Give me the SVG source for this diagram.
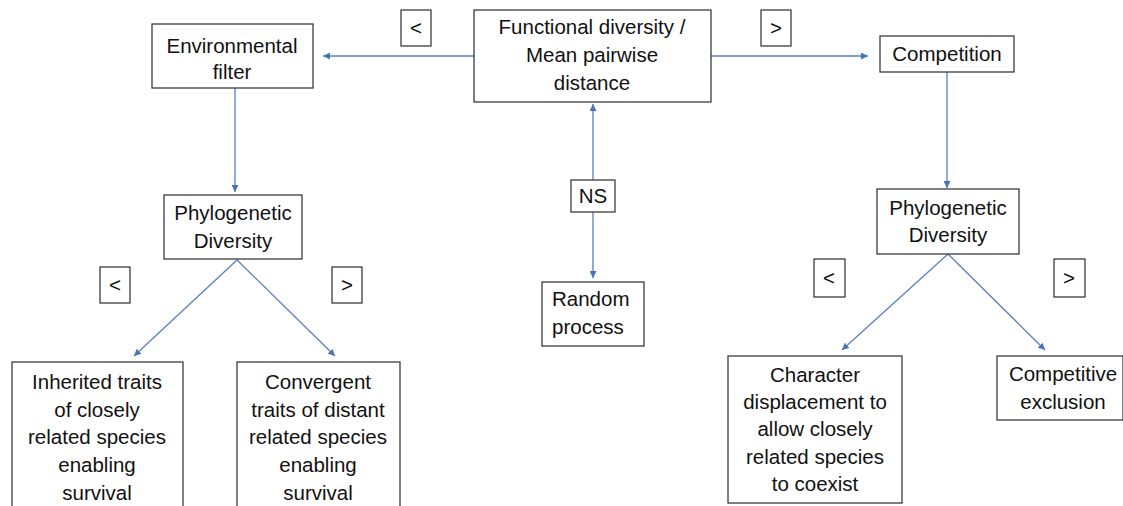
<svg xmlns="http://www.w3.org/2000/svg" width="1123" height="506" viewBox="0 0 1123 506">
<style>
.box{fill:#fff;stroke:#2b2b2b;stroke-width:1.2}
.t{font-family:"Liberation Sans",Arial,sans-serif;font-size:20.5px;fill:#111;text-anchor:middle}
.tl{font-family:"Liberation Sans",Arial,sans-serif;font-size:20.5px;fill:#111}
.c{stroke:#5a7fbf;stroke-width:1.3;fill:none}
</style>
<defs>
<marker id="ah" viewBox="0 0 10 10" refX="10" refY="5" markerWidth="7" markerHeight="7" markerUnits="userSpaceOnUse" orient="auto-start-reverse">
<path d="M0,0 L10,5 L0,10 z" fill="#4a72b8"/>
</marker>
</defs>
<rect width="1123" height="506" fill="#fff"/>
<g id="connectors">
<line class="c" x1="474" y1="56" x2="323" y2="56" marker-end="url(#ah)"/>
<line class="c" x1="711" y1="56" x2="868" y2="56" marker-end="url(#ah)"/>
<line class="c" x1="235" y1="88" x2="235" y2="192" marker-end="url(#ah)"/>
<line class="c" x1="947" y1="72" x2="947" y2="188" marker-end="url(#ah)"/>
<line class="c" x1="593" y1="104" x2="593" y2="278" marker-start="url(#ah)" marker-end="url(#ah)"/>
<line class="c" x1="237" y1="260" x2="134" y2="356" marker-end="url(#ah)"/>
<line class="c" x1="237" y1="260" x2="335" y2="356" marker-end="url(#ah)"/>
<line class="c" x1="948" y1="254" x2="842" y2="350" marker-end="url(#ah)"/>
<line class="c" x1="948" y1="254" x2="1045" y2="350" marker-end="url(#ah)"/>
</g>
<g id="functional">
<rect class="box" x="474" y="10" width="237" height="92"/>
<text class="t" x="592" y="34">Functional diversity /</text>
<text class="t" x="592" y="62">Mean pairwise</text>
<text class="t" x="592" y="90">distance</text>
</g>
<g id="lt-top">
<rect class="box" x="401" y="10" width="30" height="36"/>
<text class="t" x="416" y="35">&lt;</text>
</g>
<g id="gt-top">
<rect class="box" x="761" y="10" width="30" height="36"/>
<text class="t" x="776" y="35">&gt;</text>
</g>
<g id="env">
<rect class="box" x="152" y="24" width="161" height="64"/>
<text class="t" x="232" y="53">Environmental</text>
<text class="t" x="232" y="79">filter</text>
</g>
<g id="competition">
<rect class="box" x="880" y="36" width="134" height="36"/>
<text class="t" x="947" y="61">Competition</text>
</g>
<g id="phylo-left">
<rect class="box" x="164" y="195" width="138" height="64"/>
<text class="t" x="233" y="220">Phylogenetic</text>
<text class="t" x="233" y="248">Diversity</text>
</g>
<g id="lt-left">
<rect class="box" x="100" y="267" width="30" height="36"/>
<text class="t" x="115" y="292">&lt;</text>
</g>
<g id="gt-left">
<rect class="box" x="332" y="267" width="30" height="36"/>
<text class="t" x="347" y="292">&gt;</text>
</g>
<g id="inherited">
<rect class="box" x="12" y="362" width="171" height="150"/>
<text class="t" x="97" y="389">Inherited traits</text>
<text class="t" x="97" y="417">of closely</text>
<text class="t" x="97" y="444">related species</text>
<text class="t" x="97" y="472">enabling</text>
<text class="t" x="97" y="500">survival</text>
</g>
<g id="convergent">
<rect class="box" x="237" y="362" width="163" height="150"/>
<text class="t" x="318" y="389">Convergent</text>
<text class="t" x="318" y="417">traits of distant</text>
<text class="t" x="318" y="444">related species</text>
<text class="t" x="318" y="472">enabling</text>
<text class="t" x="318" y="500">survival</text>
</g>
<g id="ns">
<rect class="box" x="571" y="180" width="44" height="32"/>
<text class="t" x="593" y="203">NS</text>
</g>
<g id="random">
<rect class="box" x="542" y="282" width="102" height="64"/>
<text class="tl" x="552" y="306">Random</text>
<text class="tl" x="552" y="334">process</text>
</g>
<g id="phylo-right">
<rect class="box" x="877" y="189" width="142" height="65"/>
<text class="t" x="948" y="215">Phylogenetic</text>
<text class="t" x="948" y="242">Diversity</text>
</g>
<g id="lt-right">
<rect class="box" x="814" y="259" width="31" height="38"/>
<text class="t" x="829" y="285">&lt;</text>
</g>
<g id="gt-right">
<rect class="box" x="1054" y="259" width="31" height="38"/>
<text class="t" x="1069" y="285">&gt;</text>
</g>
<g id="character">
<rect class="box" x="728" y="356" width="174" height="147"/>
<text class="t" x="815" y="382">Character</text>
<text class="t" x="815" y="409">displacement to</text>
<text class="t" x="815" y="436">allow closely</text>
<text class="t" x="815" y="464">related species</text>
<text class="t" x="815" y="491">to coexist</text>
</g>
<g id="competitive">
<rect class="box" x="997" y="356" width="126" height="64"/>
<text class="t" x="1063" y="381">Competitive</text>
<text class="t" x="1063" y="409">exclusion</text>
</g>
</svg>
